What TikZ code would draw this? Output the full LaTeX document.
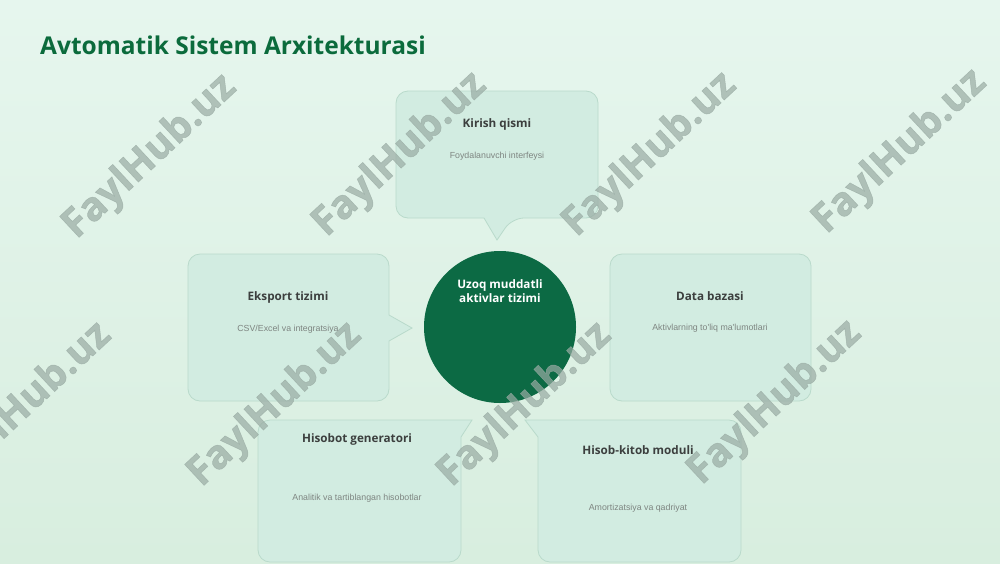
\documentclass[tikz,border=0pt]{standalone}
\usepackage{fontspec}
\setmainfont{Open Sans}
\newfontfamily\subfont{Liberation Sans}
\newfontfamily\wmfont[FakeBold=1.2]{Open Sans}
\usetikzlibrary{calc}
\definecolor{bgA}{HTML}{E6F6EE}
\definecolor{bgB}{HTML}{D8EEDF}
\definecolor{boxfill}{HTML}{D2ECE1}
\definecolor{boxline}{HTML}{B9DACB}
\definecolor{titlegreen}{HTML}{0B6B3C}
\definecolor{circgreen}{HTML}{0C6A44}
\definecolor{boxtitle}{HTML}{3C3F3E}
\definecolor{subgray}{HTML}{7E8581}
\definecolor{wmark}{HTML}{99ABA3}
\tikzset{
  callbox/.style={fill=boxfill, draw=boxline, line width=0.8pt},
  boxtitle/.style={font=\bfseries\fontsize{11.7}{13}\selectfont, text=boxtitle, inner sep=0pt},
  boxsub/.style={font=\subfont\fontsize{8.8}{10}\selectfont, text=subgray, inner sep=0pt},
  wm/.style={font=\wmfont\bfseries\fontsize{40}{44}\selectfont, text=wmark, text opacity=0.7, rotate=43, inner sep=0pt}
}
\begin{document}
\begin{tikzpicture}[x=1pt,y=-1pt]
\useasboundingbox (0,0) rectangle (1000,563);
\shade[top color=bgA, bottom color=bgB] (0,0) rectangle (1000,563);

\node[anchor=west, font=\bfseries\fontsize{24.5}{28}\selectfont, text=titlegreen, inner sep=0pt] (title) at (40,45) {Avtomatik Sistem Arxitekturasi};

% top box
\path[callbox, rounded corners=12pt] (396,91) -- (598,91) -- (598,218) -- (512,218) [sharp corners] -- (497,240) -- (484,218) [rounded corners=12pt] -- (396,218) -- cycle;
% left box
\path[callbox, rounded corners=12pt] (188,254) -- (389,254) [sharp corners] -- (389,315) -- (412,328) -- (389,341) [rounded corners=12pt] -- (389,401) -- (188,401) -- cycle;
% right box
\path[callbox, rounded corners=12pt] (610,254) rectangle (811,401);
% bottom left box
\path[callbox, rounded corners=12pt] (258,420) [sharp corners] -- (472,420) -- (461,437) [rounded corners=12pt] -- (461,562) -- (258,562) -- cycle;
% bottom right box
\path[callbox, rounded corners=12pt] (741,420) -- (741,562) -- (538,562) [sharp corners] -- (538,437) -- (525,420) [rounded corners=12pt] -- cycle;

\node[circle, fill=circgreen, minimum size=152pt, inner sep=0pt] (hub) at (500,327) {};
\node[font=\bfseries\fontsize{11.7}{13.5}\selectfont, text=white, align=center, inner sep=0pt] (hubtext) at (500,291) {Uzoq muddatli\\aktivlar tizimi};

\node[boxtitle] (t1) at (497,124) {Kirish qismi};
\node[boxsub] (s1) at (497,156) {Foydalanuvchi interfeysi};
\node[boxtitle] (t2) at (288,297) {Eksport tizimi};
\node[boxsub] (s2) at (288,329) {CSV/Excel va integratsiya};
\node[boxtitle] (t3) at (710,296) {Data bazasi};
\node[boxsub] (s3) at (710,328) {Aktivlarning to'liq ma'lumotlari};
\node[boxtitle] (t4) at (357,439) {Hisobot generatori};
\node[boxsub] (s4) at (357,498) {Analitik va tartiblangan hisobotlar};
\node[boxtitle] (t5) at (638,450) {Hisob-kitob moduli};
\node[boxsub] (s5) at (638,508) {Amortizatsiya va qadriyat};

% watermarks
\node[wm] (w1) at (150,157) {FaylHub.uz};
\node[wm] (w2) at (400,155) {FaylHub.uz};
\node[wm] (w3) at (650,155) {FaylHub.uz};
\node[wm] (w4) at (900,152) {FaylHub.uz};
\node[wm] (w5) at (25,405) {FaylHub.uz};
\node[wm] (w6) at (275,405) {FaylHub.uz};
\node[wm] (w7) at (525,405) {FaylHub.uz};
\node[wm] (w8) at (775,403) {FaylHub.uz};
\end{tikzpicture}
\end{document}
